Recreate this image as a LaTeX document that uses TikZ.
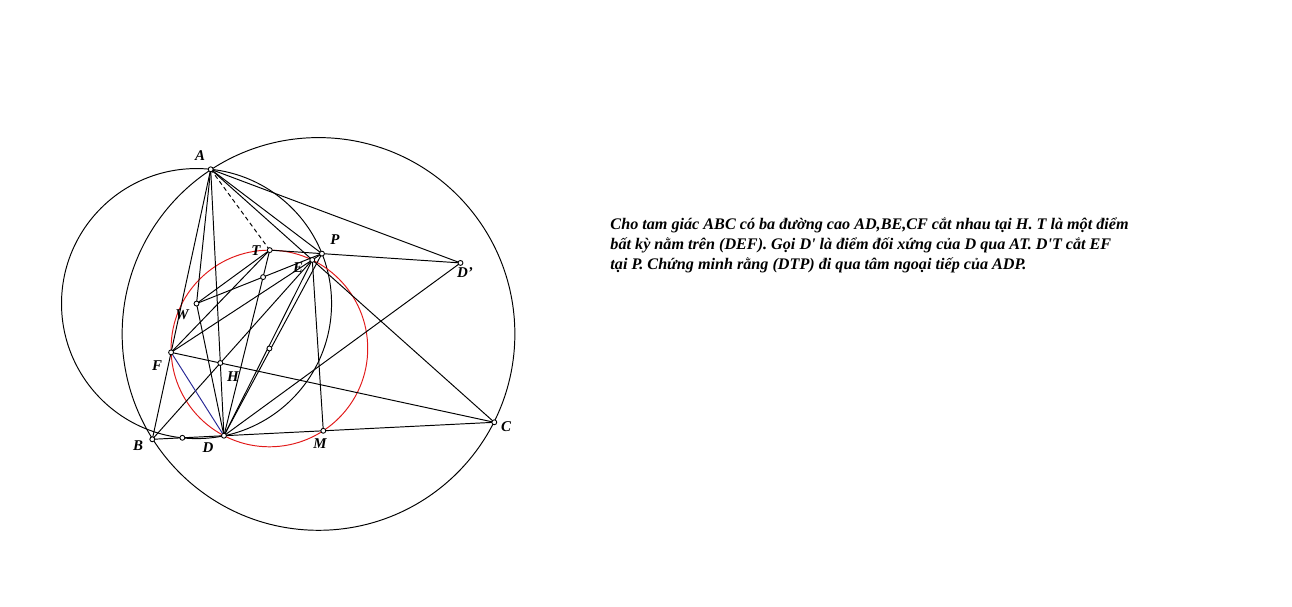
\documentclass[tikz,border=0pt]{standalone}
\usepackage{fontspec}
\setmainfont{Liberation Serif}
\usetikzlibrary{calc}
\definecolor{ninept}{RGB}{225,25,25}
\definecolor{orthic}{RGB}{40,40,150}
\begin{document}
\begin{tikzpicture}
  [x=0.02cm,y=-0.02cm,line width=0.55pt,
   every node/.style={inner sep=0pt,font=\bfseries\itshape\fontsize{8.5}{10}\selectfont},
   dot/.style={circle,draw,fill=white,line width=0.5pt,minimum size=2.8pt},
   dashline/.style={dash pattern=on 2.4pt off 1.8pt}]
  \tikzstyle{prob} = [anchor=base west,font=\bfseries\itshape\fontsize{9.2}{11}\selectfont]
  \useasboundingbox (0,0) rectangle (1292,607);
  \coordinate (A) at (210.7,169.3);
  \coordinate (B) at (152.3,439.3);
  \coordinate (C) at (494.3,422.3);
  \coordinate (D) at ($(B)!(A)!(C)$);
  \coordinate (E) at ($(A)!(B)!(C)$);
  \coordinate (F) at ($(A)!(C)!(B)$);
  \coordinate (H) at (intersection of A--D and B--E);
  \coordinate (M) at ($(B)!.5!(C)$);
  \coordinate (Mab) at ($(A)!.5!(B)$);
  \coordinate (Oab) at ($(Mab)!1!90:(B)$);
  \coordinate (Mac) at ($(A)!.5!(C)$);
  \coordinate (Oac) at ($(Mac)!1!90:(C)$);
  \coordinate (O) at (intersection of Mab--Oab and Mac--Oac);
  \coordinate (N) at ($(O)!.5!(H)$);
  \coordinate (T) at ($(N)!1!146.6:(M)$);
  \coordinate (Q) at ($(A)!(D)!(T)$);
  \coordinate (Dp) at ($(D)!2!(Q)$);
  \coordinate (P) at (intersection of T--Dp and E--F);
  \coordinate (Mad) at ($(A)!.5!(D)$);
  \coordinate (Wad) at ($(Mad)!1!90:(D)$);
  \coordinate (Map) at ($(A)!.5!(P)$);
  \coordinate (Wap) at ($(Map)!1!90:(P)$);
  \coordinate (W) at (intersection of Mad--Wad and Map--Wap);
  \coordinate (K) at (intersection of T--D and W--P);
  \coordinate (Wf) at ($(B)!(W)!(C)$);
  \coordinate (X) at ($(D)!2!(Wf)$);

  \draw let \p1 = ($(A)-(O)$), \n1 = {veclen(\x1,\y1)} in (O) circle [radius=\n1];
  \draw let \p1 = ($(A)-(W)$), \n1 = {veclen(\x1,\y1)} in (W) circle [radius=\n1];
  \draw[ninept] let \p1 = ($(M)-(N)$), \n1 = {veclen(\x1,\y1)} in (N) circle [radius=\n1];

\foreach \source /\dest in {A/B,B/C,C/A,A/D,B/E,C/F,F/P,D/E,D/P,M/E}
   \draw (\source) -- (\dest);
\foreach \source /\dest in {T/Dp,D/Dp,A/Dp,A/P,T/D,F/T,W/A,W/D,W/P,W/T}
   \draw (\source) -- (\dest);
  \draw[orthic] (D) -- (F);
  \draw[dashline] (A) -- (T);

\foreach \p in {A,B,C,D,E,F,H,M,T,P,Dp,W,K,X,N}
   \node[dot] (d\p) at (\p) {};

  \node (lA) at (200,156) {A};
  \node (lT) at (256,251) {T};
  \node (lP) at (335,240) {P};
  \node (lE) at (298,268) {E};
  \node (lDp) at (465,273) {D'};
  \node (lW) at (182,315) {W};
  \node (lF) at (157,366) {F};
  \node (lH) at (233,377) {H};
  \node (lB) at (138,446) {B};
  \node (lD) at (208,448) {D};
  \node (lM) at (320,444) {M};
  \node (lC) at (506,427) {C};

  \node[prob] (t1) at (610,230) {Cho tam giác ABC có ba đường cao AD,BE,CF cắt nhau tại H. T là một điểm};
  \node[prob] (t2) at (610,250) {bất kỳ nằm trên (DEF). Gọi D\textquotesingle{} là điểm đối xứng của D qua AT. D\textquotesingle T cắt EF};
  \node[prob] (t3) at (610,270) {tại P. Chứng minh rằng (DTP) đi qua tâm ngoại tiếp của ADP.};
\end{tikzpicture}
\end{document}
